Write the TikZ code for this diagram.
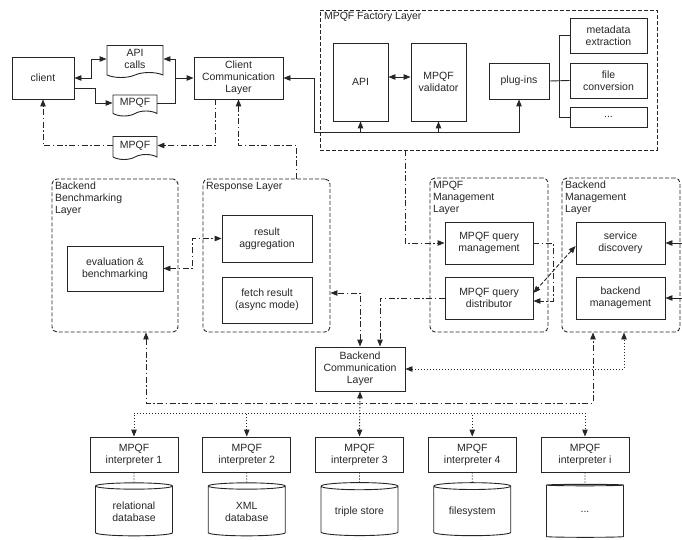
\documentclass[tikz,border=0pt]{standalone}
\usepackage{fontspec}
\setmainfont{Liberation Sans}
\usetikzlibrary{arrows.meta,shapes.symbols,shapes.geometric}

\begin{document}
\begin{tikzpicture}[x=1pt, y=-1pt, node distance={112.75pt}, line width=0.9pt, color=black!85,
        font=\fontsize{10.5}{12}\selectfont,
        >={Triangle[length=7pt,width=5.5pt]},
        box/.style = {draw, align=center, inner sep=1pt},
        doc/.style = {draw, tape, tape bend top=none, tape bend height=5pt, align=center, inner sep=1pt},
        layer/.style = {draw, dash pattern=on 4pt off 2pt, rounded corners=5pt},
        lbl/.style = {anchor=north west, align=left, inner sep=0pt},
        dashdot/.style = {dash pattern=on 6pt off 2.5pt on 1.5pt off 2.5pt},
        dotline/.style = {dash pattern=on 1.2pt off 1.8pt},
        dashline/.style = {dash pattern=on 4pt off 2pt},
        interp/.style = {box, minimum width=88pt, minimum height=35pt},
        store/.style = {draw, cylinder, shape border rotate=90, aspect=0.14, minimum width=77pt, minimum height=53pt, align=center, inner sep=1pt}]
    \useasboundingbox (0,0) rectangle (682,540);

    % layers
    \node[layer, sharp corners, minimum width=337pt, minimum height=140pt] (fac) at (488.5,80) {};
    \node[lbl] at ([xshift=4pt,yshift=-2pt]fac.north west) {MPQF Factory Layer};
    \node[layer, minimum width=126pt, minimum height=153pt] (bbl) at (115,255.5) {};
    \node[lbl] at ([xshift=3pt,yshift=-3pt]bbl.north west) {Backend\\Benchmarking\\Layer};
    \node[layer, minimum width=127pt, minimum height=153pt] (rl) at (266.5,255.5) {};
    \node[lbl] at ([xshift=3pt,yshift=-3pt]rl.north west) {Response Layer};
    \node[layer, minimum width=118pt, minimum height=154pt] (mml) at (489,255) {};
    \node[lbl] at ([xshift=3pt,yshift=-3pt]mml.north west) {MPQF\\Management\\Layer};
    \node[layer, minimum width=118pt, minimum height=154pt] (bml) at (621,255) {};
    \node[lbl] at ([xshift=3pt,yshift=-3pt]bml.north west) {Backend\\Management\\Layer};

    % client side
    \node[box, minimum width=62pt, minimum height=42pt] (client) at (43,78) {client};
    \node[doc, minimum width=56pt, minimum height=32pt] (calls) at (135,59) {API\\calls};
    \node[doc, minimum width=44pt, minimum height=21pt] (qup) at (135,103) {MPQF};
    \node[doc, minimum width=44pt, minimum height=23pt] (qdown) at (135,145.5) {MPQF};
    \node[box, minimum width=89pt, minimum height=42pt] (ccl) at (238.5,78) {Client\\Communication\\Layer};

    % factory
    \node[box, minimum width=55pt, minimum height=78pt] (api) at (360.5,82) {API};
    \node[box, minimum width=55pt, minimum height=78pt] (val) at (438.5,82) {MPQF\\validator};
    \node[box, minimum width=60pt, minimum height=36pt] (plug) at (519,81) {plug-ins};
    \node[box, minimum width=77pt, minimum height=35pt] (meta) at (608.5,35.5) {metadata\\extraction};
    \node[box, minimum width=77pt, minimum height=35pt] (conv) at (608.5,80.5) {file\\conversion};
    \node[box, minimum width=77pt, minimum height=20pt] (more) at (608.5,117) {...};

    % middle layers
    \node[box, minimum width=96pt, minimum height=45pt] (evalb) at (115,268.5) {evaluation \&\\benchmarking};
    \node[box, minimum width=90pt, minimum height=47pt] (aggr) at (267,238.5) {result\\aggregation};
    \node[box, minimum width=90pt, minimum height=46pt] (fetch) at (267,300) {fetch result\\(async mode)};
    \node[box, minimum width=88pt, minimum height=42pt] (qm) at (489,243) {MPQF query\\management};
    \node[box, minimum width=88pt, minimum height=42pt] (qd) at (489,298) {MPQF query\\distributor};
    \node[box, minimum width=89pt, minimum height=42pt] (sd) at (620.5,243) {service\\discovery};
    \node[box, minimum width=89pt, minimum height=42pt] (bm) at (620.5,298) {backend\\management};
    \node[box, minimum width=90pt, minimum height=44pt] (bcl) at (360,369) {Backend\\Communication\\Layer};

    % interpreters and stores
    \node[interp] (i1) at (134,454.5) {MPQF\\interpreter 1};
    \node[interp] (i2) [right of=i1] {MPQF\\interpreter 2};
    \node[interp] (i3) [right of=i2] {MPQF\\interpreter 3};
    \node[interp] (i4) [right of=i3] {MPQF\\interpreter 4};
    \node[interp] (i5) [right of=i4] {MPQF\\interpreter i};
    \node[store] (s1) [node distance=57pt, below of=i1] {relational\\database};
    \node[store] (s2) [node distance=57pt, below of=i2] {XML\\database};
    \node[store] (s3) [node distance=57pt, below of=i3] {triple store};
    \node[store] (s4) [node distance=57pt, below of=i4] {filesystem};
    \node[store] (s5) [node distance=57pt, below of=i5] {...};

    % client connectors
    \draw[<->] (client.east) -- ++(17,0) |- (calls.west);
    \draw[->] ([yshift=-10pt]client.east) -- ++(21,0) |- (qup.west);
    \draw[->] (qup.east) -| ([xshift=12pt]calls.east) -- (calls.east);
    \draw[->] ([xshift=12pt]calls.east |- ccl.west) -- (ccl.west);
    \draw[dashdot,->] ([xshift=-23pt]ccl.south) |- (qdown.east);
    \draw[dashdot,->] (qdown.west) -| (client.south);
    \draw[dashdot,->] ([xshift=30pt]rl.north) -- ++(0,-33) -| (ccl.south);

    % factory bus
    \coordinate (bus) at (314,132);
    \draw[->] (bus) |- (ccl.east);
    \draw[->] (bus) -| (plug.south);
    \draw[->] (api.south |- bus) -- (api.south);
    \draw[->] (val.south |- bus) -- (val.south);
    \draw[<->] ([yshift=5pt]api.east) -- ([yshift=5pt]val.west);
    \draw (plug.east) -- (conv.west);
    \draw (meta.west) -- ++(-10,0) |- (more.west);

    % management
    \draw[dashdot,->] ([xshift=-83.5pt]fac.south) |- (qm.west);
    \draw[dashdot,->] (qm.east) -- ++(20,0) |- ([yshift=-3pt]qd.east);
    \draw[dashline,<->] ([yshift=-3pt]sd.west) -- ([yshift=5pt]qd.east);
    \draw[dashdot,->] (qd.west) -| ([xshift=20pt]bcl.north);
    \draw[dashdot,<->] (bcl.north) |- ([yshift=-37.5pt]rl.east);
    \draw[dashdot,<->] (evalb.east) -- ++(29,0) |- (aggr.west);
    \coordinate (sdin) at (682,243);
    \coordinate (bmin) at (682,298);
    \draw[->] (sdin) -- (sd.east);
    \draw[->] (bmin) -- (bm.east);

    % backend side
    \draw[dotline,<->] (bcl.east) -| ([xshift=3pt]bml.south);
    \coordinate (cb) at (360,403);
    \draw[dashdot,<->] ([xshift=31pt]bbl.south) |- (cb) -| ([xshift=-28pt]bml.south);
    \coordinate (db) at (360,413);
    \draw[dotline,<->] (bcl.south) -- (i3.north);
    \draw[dotline,->] (db) -| (i1.north);
    \draw[dotline,->] (db) -| (i2.north);
    \draw[dotline,->] (db) -| (i4.north);
    \draw[dotline,->] (db) -| (i5.north);
    \draw[dotline] (i1.south) -- (s1.north);
    \draw[dotline] (i2.south) -- (s2.north);
    \draw[dotline] (i3.south) -- (s3.north);
    \draw[dotline] (i4.south) -- (s4.north);
    \draw[dotline] (i5.south) -- (s5.north);
\end{tikzpicture}
\end{document}
